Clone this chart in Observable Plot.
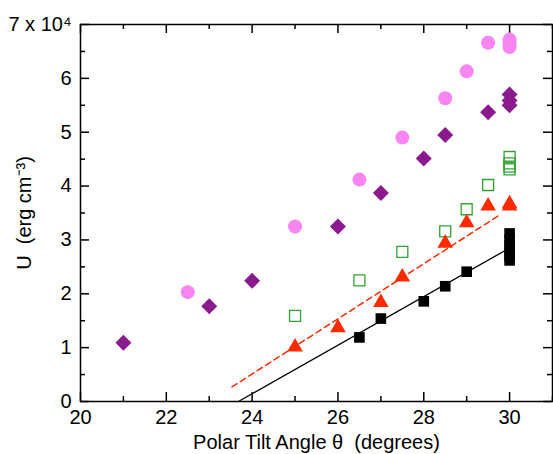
<!DOCTYPE html>
<html>
<head>
<meta charset="utf-8">
<script src="https://cdn.jsdelivr.net/npm/d3@7"></script>
<script src="https://cdn.jsdelivr.net/npm/@observablehq/plot@0.6"></script>
<style>
  body { margin: 0; background: #fff; }
  #chart svg { display: block; }
</style>
</head>
<body>
<div id="chart"></div>
<script>
// Energy density U (in units of 10^4 erg cm^-3) versus polar tilt angle θ (degrees)
const circleX  = [22.5, 25, 26.5, 27.5, 28.5, 29, 29.5, 30, 30, 30];
const circleY  = [2.03, 3.25, 4.12, 4.90, 5.63, 6.13, 6.66, 6.72, 6.65, 6.58];

const diamondX = [21, 23, 24, 26, 27, 28, 28.5, 29.5, 30, 30, 30];
const diamondY = [1.09, 1.77, 2.24, 3.25, 3.87, 4.51, 4.95, 5.37, 5.70, 5.59, 5.50];

const openSqX  = [25, 26.5, 27.5, 28.5, 29, 29.5, 30, 30, 30, 30];
const openSqY  = [1.59, 2.25, 2.78, 3.16, 3.57, 4.02, 4.54, 4.42, 4.36, 4.31];

const triX     = [25, 26, 27, 27.5, 28.5, 29, 29.5, 30, 30];
const triY     = [1.01, 1.37, 1.84, 2.31, 2.94, 3.32, 3.63, 3.63, 3.67];

const squareX  = [26.5, 27, 28, 28.5, 29, 30, 30, 30, 30, 30, 30];
const squareY  = [1.19, 1.54, 1.86, 2.14, 2.41, 3.12, 3.00, 2.90, 2.80, 2.70, 2.62];

// Linear fits
const fitSolidX = [23.68, 30];
const fitSolidY = [0, 2.85];
const fitDashX  = [23.53, 29.8];
const fitDashY  = [0.27, 3.48];

// Axis ticks
const xMajor = [20, 22, 24, 26, 28, 30];
const xMinor = [21, 23, 25, 27, 29, 31];
const yMajor = [0, 1, 2, 3, 4, 5, 6, 7];
const yMinor = [0.5, 1.5, 2.5, 3.5, 4.5, 5.5, 6.5];

const W = 553, H = 454;
const mL = 80, mR = 1, mT = 24, mB = 53;
const innerW = W - mL - mR, innerH = H - mT - mB;
const pts = (xs, ys) => xs.map((x, i) => ({x, y: ys[i]}));

// inward-pointing ticks on all four sides of the frame
const tickX = (vals, len, side) => Plot.tickX(vals, {
  x: d => d, stroke: "#000", strokeWidth: 1.5,
  ...(side === "bottom" ? {insetTop: innerH - len} : {insetBottom: innerH - len})
});
const tickY = (vals, len, side) => Plot.tickY(vals, {
  y: d => d, stroke: "#000", strokeWidth: 1.5,
  ...(side === "left" ? {insetRight: innerW - len} : {insetLeft: innerW - len})
});

const chart = Plot.plot({
  width: W, height: H,
  marginLeft: mL, marginRight: mR, marginTop: mT, marginBottom: mB,
  style: {fontFamily: "'Liberation Sans', Arial, sans-serif", fontSize: "20px", color: "#000", background: "#fff"},
  x: {domain: [20, 31]},
  y: {domain: [0, 7]},
  marks: [
    Plot.axisX(xMajor, {tickSize: 0, tickPadding: 8, fontSize: 20,
      label: "Polar Tilt Angle θ  (degrees)", labelAnchor: "center", labelArrow: "none", labelOffset: 47}),
    Plot.axisY(yMajor, {tickSize: 0, tickPadding: 9, fontSize: 20,
      tickFormat: d => d === 7 ? "7 x 10⁴" : String(d),
      label: "U  (erg cm⁻³)", labelAnchor: "center", labelArrow: "none", labelOffset: 64}),
    tickX(xMajor, 9, "bottom"), tickX(xMinor, 5, "bottom"),
    tickX(xMajor, 9, "top"), tickX(xMinor, 5, "top"),
    tickY(yMajor, 9, "left"), tickY(yMinor, 5, "left"),
    tickY(yMajor, 9, "right"), tickY(yMinor, 5, "right"),
    Plot.frame({stroke: "#000", strokeWidth: 1.5}),
    Plot.line(pts(fitSolidX, fitSolidY), {x: "x", y: "y", stroke: "#000", strokeWidth: 1.3}),
    Plot.line(pts(fitDashX, fitDashY), {x: "x", y: "y", stroke: "#ff2a00", strokeWidth: 1.5, strokeDasharray: "6,4"}),
    Plot.dot(pts(circleX, circleY), {x: "x", y: "y", symbol: "circle", r: 7, fill: "#f885f2", stroke: "none"}),
    Plot.dot(pts(diamondX, diamondY), {x: "x", y: "y", symbol: "diamond2", r: 7.2, fill: "#8b1a8e", stroke: "none"}),
    Plot.dot(pts(openSqX, openSqY), {x: "x", y: "y", symbol: "square2", r: 7, fill: "none", stroke: "#33a333", strokeWidth: 1.3}),
    Plot.dot(pts(triX, triY), {x: "x", y: "y", symbol: "triangle", r: 5.8, fill: "#ff2a00", stroke: "none"}),
    Plot.dot(pts(squareX, squareY), {x: "x", y: "y", symbol: "square", r: 6, fill: "#000", stroke: "none"})
  ]
});
document.getElementById("chart").append(chart);
</script>
</body>
</html>
